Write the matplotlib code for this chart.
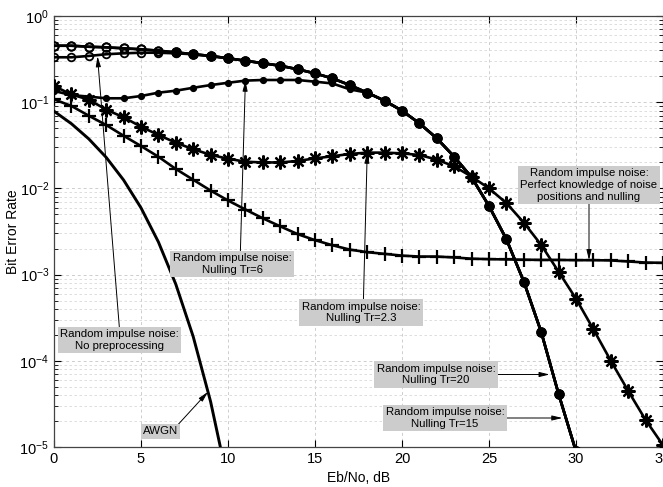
import numpy as np
import matplotlib
matplotlib.use("Agg")
import matplotlib.pyplot as plt

plt.rcParams['font.family'] = ['Liberation Sans', 'DejaVu Sans']
plt.rcParams['mathtext.fontset'] = 'custom'
plt.rcParams['mathtext.rm'] = 'Liberation Sans'
plt.rcParams['mathtext.it'] = 'Liberation Sans'

# ---------------- data ----------------
snr = np.arange(0, 36)

awgn_snr = np.arange(0, 11)
awgn = [7.86e-2, 5.63e-2, 3.75e-2, 2.29e-2, 1.25e-2, 5.95e-3, 2.39e-3,
        7.73e-4, 1.91e-4, 3.36e-5, 3.87e-6]

circ_snr = np.arange(0, 31)
tr20 = [0.452, 0.452, 0.440, 0.433, 0.422, 0.411, 0.396, 0.379, 0.360, 0.344,
        0.323, 0.303, 0.283, 0.265, 0.241, 0.216, 0.189, 0.158, 0.129, 0.104,
        0.0797, 0.0569, 0.0381, 0.0233, 0.01345, 6.25e-3, 2.57e-3, 8.3e-4,
        2.16e-4, 4.12e-5, 8.9e-6]
tr15 = [0.452, 0.452, 0.440, 0.433, 0.422, 0.411, 0.396, 0.379, 0.360, 0.344,
        0.323, 0.303, 0.283, 0.265, 0.241, 0.216, 0.189, 0.158, 0.129, 0.104,
        0.0797, 0.0569, 0.0381, 0.0233, 0.01345, 6.25e-3, 2.57e-3, 8.3e-4,
        2.16e-4, 4.12e-5, 8.9e-6]
no_pre = [0.332, 0.332, 0.344, 0.360, 0.369, 0.375, 0.375, 0.369, 0.360, 0.344,
          0.323, 0.303, 0.283, 0.265, 0.241, 0.216, 0.189, 0.158, 0.129, 0.104,
          0.0797, 0.0569, 0.0381, 0.0233, 0.01345, 6.25e-3, 2.57e-3, 8.3e-4,
          2.16e-4, 4.12e-5, 8.9e-6]
tr6 = [0.135, 0.121, 0.116, 0.111, 0.111, 0.118, 0.129, 0.136, 0.147, 0.158,
       0.168, 0.178, 0.181, 0.181, 0.181, 0.173, 0.165, 0.141, 0.129, 0.104,
       0.0797, 0.0569, 0.0381, 0.0233, 0.01345, 6.25e-3, 2.57e-3, 8.3e-4,
       2.16e-4, 4.12e-5, 8.9e-6]
tr23 = [0.154, 0.123, 0.107, 0.0820, 0.0668, 0.0520, 0.0417, 0.0339, 0.0285,
        0.0245, 0.0221, 0.0204, 0.0200, 0.0200, 0.0208, 0.0223, 0.0236, 0.0251,
        0.0260, 0.0260, 0.0255, 0.0244, 0.0216, 0.0180, 0.0137, 0.0100,
        6.76e-3, 4.01e-3, 2.21e-3, 1.08e-3, 5.25e-4, 2.32e-4, 1.0e-4, 4.47e-5,
        2.06e-5, 1.05e-5]
perfect = [0.108, 0.0904, 0.0697, 0.0543, 0.0408, 0.0310, 0.0233, 0.0168,
           0.0126, 9.44e-3, 7.24e-3, 5.69e-3, 4.50e-3, 3.63e-3, 2.95e-3,
           2.51e-3, 2.19e-3, 1.95e-3, 1.82e-3, 1.74e-3, 1.66e-3, 1.62e-3,
           1.62e-3, 1.58e-3, 1.53e-3, 1.51e-3, 1.50e-3, 1.49e-3, 1.48e-3,
           1.48e-3, 1.47e-3, 1.47e-3, 1.46e-3, 1.42e-3, 1.38e-3, 1.37e-3]

xticks = [0, 5, 10, 15, 20, 25, 30, 35]

# ---------------- figure ----------------
W, H = 663, 487
fig = plt.figure(figsize=(W / 100, H / 100), dpi=100)
fig.patch.set_facecolor('white')
ax = fig.add_axes([54 / W, 40 / H, (W - 54) / W, 431 / H])

lw = 1.9
ax.semilogy(snr[:len(no_pre)], no_pre, color='black', lw=lw, marker='o',
            ms=5.5, mfc='none', mew=1.3, zorder=3)
ax.semilogy(snr, tr23, color='black', lw=lw, marker=(8, 2, 0), ms=10,
            mew=1.6, zorder=4)
ax.semilogy(snr, perfect, color='black', lw=lw, marker='+', ms=10, mew=1.6,
            zorder=4)
ax.semilogy(awgn_snr, awgn, color='black', lw=2.1, zorder=4)
for vals in (tr15, tr20):
    ax.semilogy(circ_snr, vals, color='black', lw=lw, marker='o', ms=6.5,
                mfc='black', markevery=slice(7, None), zorder=5)
    ax.semilogy(circ_snr, vals, ls='none', marker='o', ms=6, mfc='none',
                mec='black', mew=1.3, markevery=slice(0, 7), zorder=5)
ax.semilogy(snr[:len(tr6)], tr6, color='black', lw=lw, marker='o', ms=4.2,
            mfc='black', zorder=6)

ax.set_xlim(0, 35)
ax.set_ylim(1e-5, 1)
ax.set_xticks(xticks)
ax.tick_params(which='both', direction='in', top=True, right=True,
               labelsize=10.5)
ax.tick_params(which='major', length=5)
ax.tick_params(which='minor', length=3)
ax.grid(True, which='major', color='#cdcdcd', ls=(0, (3, 3)), lw=0.7)
ax.grid(True, which='minor', axis='y', color='#d8d8d8', ls=(0, (3, 3)),
        lw=0.6)
ax.set_axisbelow(True)
for s in ax.spines.values():
    s.set_color('#444444')
    s.set_linewidth(0.9)

ax.set_xlabel('Eb/No, dB', fontsize=10, labelpad=4)
ax.set_ylabel('Bit Error Rate', fontsize=10)
ax.yaxis.set_label_coords(-0.056, 0.5)


def px2data(px, py):
    return (px - 54) / 17.4, 10 ** (-(py - 16) / 86.2)


def on_curve(xs, ys, x):
    return 10 ** np.interp(x, xs, np.log10(ys))


def x_at(xs, ys, y):
    ly = np.log10(ys)[::-1]
    return np.interp(np.log10(y), ly, np.asarray(xs, float)[::-1])


box = dict(boxstyle='square,pad=0.2', fc='#cccccc', ec='none')
fs = 8.2


def arrow(relpos=(0.5, 0.5)):
    return dict(arrowstyle='-|>,head_length=0.75,head_width=0.18',
                color='black', lw=0.7, shrinkA=0, shrinkB=0, relpos=relpos)


# Perfect knowledge
tx, ty = px2data(589, 185)
ax.annotate('Random impulse noise:\nPerfect knowledge of noise\npositions and nulling',
            xy=(tx, on_curve(snr, perfect, tx)), xytext=(tx, ty),
            ha='center', va='center', fontsize=fs, bbox=box,
            arrowprops=arrow((0.5, 0.0)), zorder=10)
# Tr=6
tx, ty = px2data(232, 264)
ax.annotate('Random impulse noise:\nNulling Tr=6',
            xy=(11, tr6[11]), xytext=(tx, ty), ha='center', va='center',
            fontsize=fs, bbox=box, arrowprops=arrow((0.57, 1.0)), zorder=10)
# Tr=2.3
tx, ty = px2data(361, 312.5)
ax.annotate('Random impulse noise:\nNulling Tr=2.3',
            xy=(18, tr23[18]), xytext=(tx, ty), ha='center', va='center',
            fontsize=fs, bbox=box, arrowprops=arrow((0.52, 1.0)), zorder=10)
# No preprocessing
tx, ty = px2data(119.5, 340)
ax.annotate('Random impulse noise:\nNo preprocessing',
            xy=(2.5, on_curve(snr[:len(no_pre)], no_pre, 2.5) * 0.97),
            xytext=(tx, ty), ha='center', va='center', fontsize=fs,
            bbox=box, arrowprops=arrow((0.5, 1.0)), zorder=10)
# AWGN
tx, ty = px2data(160.5, 431.5)
ax.annotate('AWGN', xy=(8.85, on_curve(awgn_snr, awgn, 8.85)),
            xytext=(tx, ty), ha='center', va='center', fontsize=fs,
            bbox=box, arrowprops=arrow((0.95, 1.0)), zorder=10)
# Tr=20
tx, ty = px2data(436, 374.5)
ax.annotate('Random impulse noise:\nNulling Tr=20',
            xy=(x_at(circ_snr, tr20, ty) - 0.2, ty), xytext=(tx, ty),
            ha='center', va='center', fontsize=fs, bbox=box,
            arrowprops=arrow((1.0, 0.5)), zorder=10)
# Tr=15
tx, ty = px2data(445, 418)
ax.annotate('Random impulse noise:\nNulling Tr=15',
            xy=(x_at(circ_snr, tr15, ty) - 0.2, ty), xytext=(tx, ty),
            ha='center', va='center', fontsize=fs, bbox=box,
            arrowprops=arrow((1.0, 0.5)), zorder=10)

fig.savefig('out.png', dpi=100)
